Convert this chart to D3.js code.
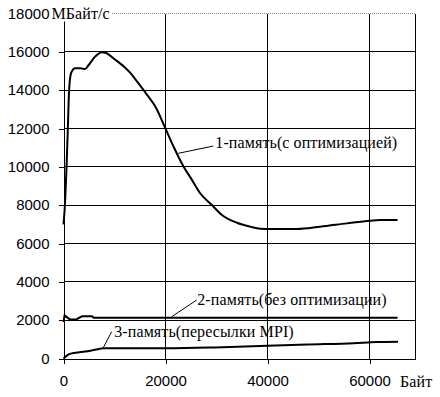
<!DOCTYPE html>
<html>
<head>
<meta charset="utf-8">
<script src="https://cdn.jsdelivr.net/npm/d3@7"></script>
<style>
  body { margin: 0; background: #fff; }
  svg { display: block; }
  .tick text { font-family: "Liberation Sans", Arial, sans-serif; font-size: 15px; fill: #000; }
  .lbl { font-family: "Liberation Serif", "Times New Roman", serif; font-size: 16px; letter-spacing: 0.1px; fill: #000; }
</style>
</head>
<body>
<div id="chart"></div>
<script>
// series 1 - память (с оптимизацией)
var x1 = [0, 300, 600, 850, 1100, 1500, 2300, 3300, 4200, 4900, 6200, 7500, 8200, 10100, 12100, 13100, 14100,
  16350, 17980, 19940, 21570, 23530, 25180, 26800, 29100, 31060, 34000, 36600, 38570, 40530, 45760, 50330,
  55560, 60140, 62100, 65500];
var y1 = [7000, 8100, 10000, 12000, 14000, 14900, 15150, 15150, 15100, 15300, 15750, 15980, 15950, 15600, 15170, 14900, 14560,
  13770, 13160, 12030, 11060, 10020, 9320, 8620, 8010, 7490, 7085, 6880, 6770, 6755, 6755, 6875,
  7050, 7190, 7225, 7225];

// series 2 - память (без оптимизации)
var x2 = [0, 200, 1300, 2600, 3600, 5600, 5900, 65500];
var y2 = [1900, 2250, 2030, 2050, 2200, 2200, 2130, 2120];

// series 3 - память (пересылки MPI)
var x3 = [0, 1000, 2300, 4250, 6200, 7850, 20000, 29700, 39900, 47700, 56900, 61400, 65600];
var y3 = [0, 210, 300, 365, 455, 530, 530, 574, 660, 730, 800, 860, 876];

var xTicks = [0, 20000, 40000, 60000];
var yTicks = [0, 2000, 4000, 6000, 8000, 10000, 12000, 14000, 16000, 18000];

var seriesLabels = ["1-память(с оптимизацией)", "2-память(без оптимизации)", "3-память(пересылки MPI)"];
var yUnit = "МБайт/с";
var xUnit = "Байт";

var svgWidth = 440;
var svgHeight = 397;

var svg = d3.select("#chart")
  .append("svg")
  .attr("width", svgWidth)
  .attr("height", svgHeight);

var x = d3.scaleLinear().domain([0, 69000]).range([63.5, 415.4]);
var y = d3.scaleLinear().domain([0, 18000]).range([358.5, 13.5]);

// grid lines
var grid = svg.append("g")
  .attr("stroke", "#000")
  .attr("shape-rendering", "crispEdges");

grid.selectAll(".hgrid")
  .data(yTicks.filter(d => d > 0 && d < 18000))
  .enter()
  .append("line")
  .attr("x1", x(0))
  .attr("x2", x(69000))
  .attr("y1", d => y(d))
  .attr("y2", d => y(d));

grid.selectAll(".vgrid")
  .data(xTicks.filter(d => d > 0))
  .enter()
  .append("line")
  .attr("x1", d => x(d))
  .attr("x2", d => x(d))
  .attr("y1", y(0))
  .attr("y2", y(18000));

// right border
grid.append("line")
  .attr("x1", x(69000)).attr("x2", x(69000))
  .attr("y1", y(0)).attr("y2", y(18000));

// top border (dotted grey)
svg.append("line")
  .attr("x1", x(0)).attr("x2", x(69000))
  .attr("y1", y(18000)).attr("y2", y(18000))
  .attr("stroke", "#888")
  .attr("stroke-dasharray", "1,1")
  .attr("shape-rendering", "crispEdges");

// axes
var fmt = d3.format("d");
var leftAxis = d3.axisLeft(y).tickValues(yTicks).tickFormat(fmt)
  .tickSizeInner(5).tickSizeOuter(0).tickPadding(9);
var bottomAxis = d3.axisBottom(x).tickValues(xTicks).tickFormat(fmt)
  .tickSizeInner(5).tickSizeOuter(0).tickPadding(12);

var yAxis = svg.append("g")
  .attr("transform", "translate(" + x(0) + ",0)")
  .call(leftAxis);

var xAxis = svg.append("g")
  .attr("transform", "translate(0," + y(0) + ")")
  .call(bottomAxis);

[yAxis, xAxis].forEach(function(a) {
  a.attr("font-family", null).attr("font-size", null);
  a.selectAll("path, line").attr("stroke", "#000").attr("shape-rendering", "crispEdges");
});
yAxis.selectAll("text").attr("dy", "0.3em");

// curves
var line = d3.line()
  .x(d => x(d[0]))
  .y(d => y(d[1]));

var series = [
  { xs: x1, ys: y1, curve: d3.curveMonotoneX },
  { xs: x2, ys: y2, curve: d3.curveLinear },
  { xs: x3, ys: y3, curve: d3.curveMonotoneX }
];

series.forEach(function(s) {
  var pts = s.xs.map((v, i) => [v, s.ys[i]]);
  svg.append("path")
    .attr("d", line.curve(s.curve)(pts))
    .attr("fill", "none")
    .attr("stroke", "#000")
    .attr("stroke-width", 2)
    .attr("stroke-linejoin", "round");
});

// curve labels with leader lines (in data units)
var notes = [
  { from: [22510, 10705], to: [29370, 11085], at: [29770, 10980] },
  { from: [21216, 2180], to: [26118, 3050], at: [26230, 2790] },
  { from: [7800, 563], to: [9450, 1400], at: [9950, 1120] }
];

notes.forEach(function(n, i) {
  svg.append("line")
    .attr("x1", x(n.from[0])).attr("y1", y(n.from[1]))
    .attr("x2", x(n.to[0])).attr("y2", y(n.to[1]))
    .attr("stroke", "#000")
    .attr("stroke-width", 1);
  svg.append("text")
    .attr("class", "lbl")
    .attr("x", x(n.at[0]))
    .attr("y", y(n.at[1]))
    .text(seriesLabels[i]);
});

// unit labels
svg.append("rect")
  .attr("x", 51).attr("y", 3)
  .attr("width", 61).attr("height", 18.5)
  .attr("fill", "#fff");

svg.append("text")
  .attr("class", "lbl")
  .attr("x", 51.5)
  .attr("y", 18.5)
  .text(yUnit);

svg.append("text")
  .attr("class", "lbl")
  .attr("x", 400)
  .attr("y", 387)
  .text(xUnit);
</script>
</body>
</html>
